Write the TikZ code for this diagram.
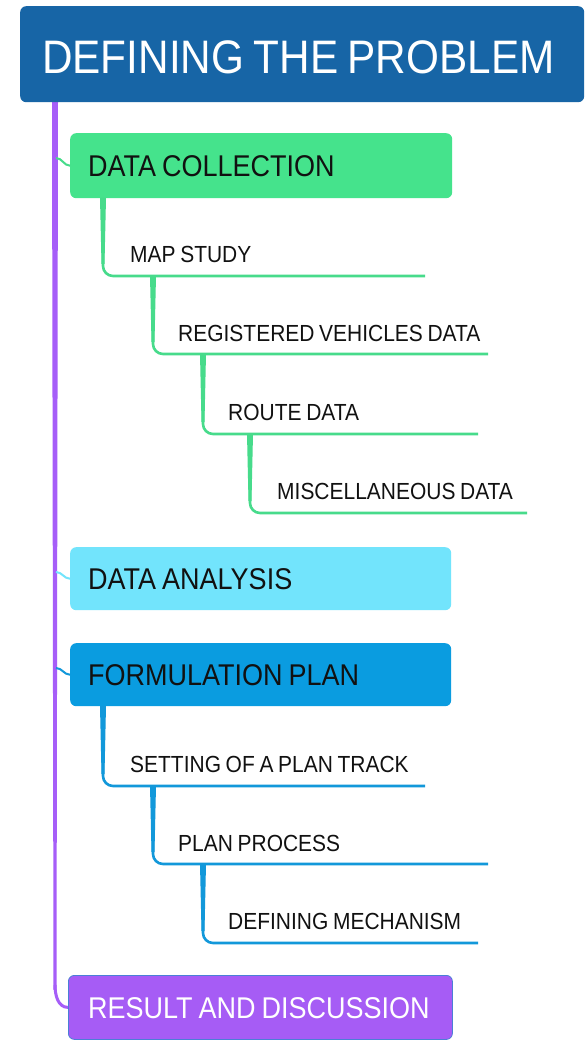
\documentclass[tikz,border=0pt]{standalone}
\usepackage{fontspec}
\setmainfont[FakeStretch=0.9,WordSpace=0.8]{Liberation Sans}
\usetikzlibrary{calc}
\definecolor{titleblue}{HTML}{1765A6}
\definecolor{dcgreen}{HTML}{45E38C}
\definecolor{lngreen}{HTML}{47DB8B}
\definecolor{dacyan}{HTML}{72E4FC}
\definecolor{fpblue}{HTML}{0A9CE0}
\definecolor{lnblue}{HTML}{1298DA}
\definecolor{spine}{HTML}{A65EF8}
\definecolor{rdpurple}{HTML}{A65CF5}
\definecolor{rdborder}{HTML}{4A7FD6}
\definecolor{ink}{HTML}{111111}
\begin{document}
\begin{tikzpicture}[x=1pt,y=-1pt,
  mainbox/.style={rounded corners=6pt, anchor=north west, minimum width=382pt, minimum height=65pt, inner sep=0pt},
  maintext/.style={anchor=base west, inner sep=0pt, font=\fontsize{30}{31}\selectfont, text=ink},
  subtext/.style={anchor=base west, inner sep=0pt, font=\fontsize{23.3}{24}\selectfont, text=ink},
  branch/.style={line width=2.6pt, rounded corners=10pt},
  link/.style={line width=2pt}
]
\useasboundingbox (0,0) rectangle (584,1040);
\fill[white] (0,0) rectangle (584,1040);

% spine
\fill[spine] (52,102) -- (58,102) -- (56.5,990) -- (53.5,990) -- cycle;

% title
\node[rounded corners=6pt, anchor=north west, minimum width=564pt, minimum height=96pt, inner sep=0pt,
  fill=titleblue] (title) at (20,6) {};
\node[anchor=base west, inner sep=0pt, text=white, font=\fontsize{47}{48}\selectfont] (titlet) at (42,74) {DEFINING THE PROBLEM};

% main boxes
\node[mainbox, fill=dcgreen] (dc) at (70,133) {};
\node[mainbox, fill=dacyan, minimum width=381pt, minimum height=63pt] (da) at (70,547) {};
\node[mainbox, fill=fpblue, minimum width=381pt, minimum height=63pt] (fp) at (70,643) {};
\node[mainbox, fill=rdpurple, draw=rdborder, line width=0.8pt, minimum width=384pt, minimum height=64pt] (rd) at (68,975) {};
\node[maintext] (dct) at (88,176.5) {DATA COLLECTION};
\node[maintext] (dat) at (88,589.5) {DATA ANALYSIS};
\node[maintext] (fpt) at (88,685.5) {FORMULATION PLAN};
\node[maintext, text=white] (rdt) at (88,1018) {RESULT AND DISCUSSION};

% spine to result
\draw[spine, line width=3pt] (55,985) to[out=-90,in=180] (rd.west);
% links from spine to boxes
\draw[link, lngreen] (56,158) to[out=0,in=180] (dc.west);
\draw[link, dacyan] (56,572) to[out=0,in=180] (da.west);
\draw[link, lnblue] (56,668) to[out=0,in=180] (fp.west);

% sub labels
\node[subtext] (ms) at (130,263) {MAP STUDY};
\node[subtext] (rv) at (178,341) {REGISTERED VEHICLES DATA};
\node[subtext] (ro) at (228,420) {ROUTE DATA};
\node[subtext] (mi) at (277,499) {MISCELLANEOUS DATA};
\node[subtext] (sp) at (130,772) {SETTING OF A PLAN TRACK};
\node[subtext] (pp) at (178,851) {PLAN PROCESS};
\node[subtext] (dm) at (228,929) {DEFINING MECHANISM};

% underline ends
\coordinate (msE) at (425,276);
\coordinate (rvE) at (488,354);
\coordinate (roE) at (478,434);
\coordinate (miE) at (527,513);
\coordinate (spE) at (425,786);
\coordinate (ppE) at (488,864);
\coordinate (dmE) at (478,943);
% branch starts
\coordinate (g1) at (103,198);
\coordinate (g2) at (153,276);
\coordinate (g3) at (203,354);
\coordinate (g4) at (250,434);
\coordinate (b1) at (103,706);
\coordinate (b2) at (153,786);
\coordinate (b3) at (203,864);

\foreach \s/\e/\c in {g1/msE/lngreen, g2/rvE/lngreen, g3/roE/lngreen, g4/miE/lngreen,
                      b1/spE/lnblue, b2/ppE/lnblue, b3/dmE/lnblue}{
  \draw[branch, \c] (\s) |- (\e);
  \fill[\c] ($(\s)+(-3,0)$) -- ($(\s)+(3,0)$) -- ($(\s |- \e)+(1.5,-12)$) -- ($(\s |- \e)+(-1.5,-12)$) -- cycle;
}
\end{tikzpicture}
\end{document}
